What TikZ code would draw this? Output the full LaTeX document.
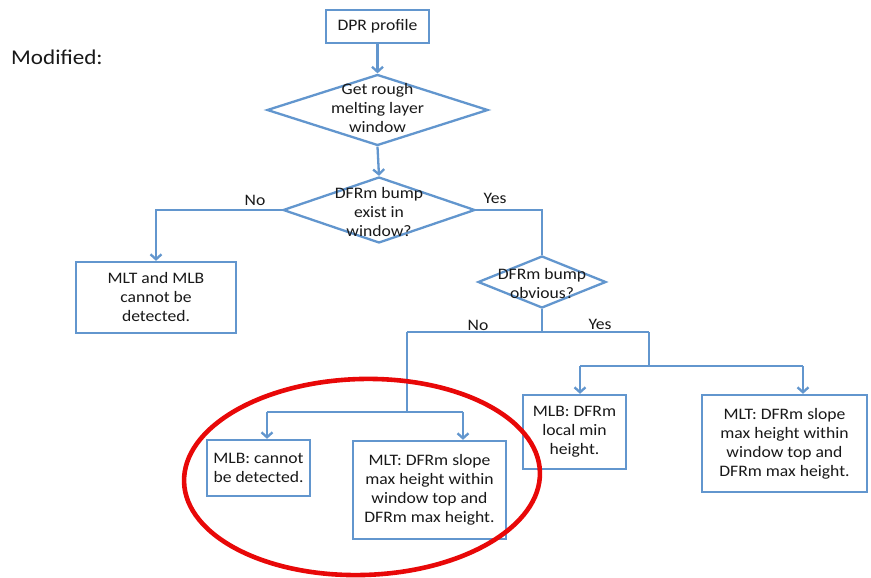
\documentclass[tikz,border=0pt]{standalone}
\usepackage{fontspec}
\setmainfont{Carlito}[FakeStretch=1.1]
\usetikzlibrary{shapes.geometric,arrows.meta}
\definecolor{flowblue}{RGB}{98,150,206}
\definecolor{inkgray}{RGB}{25,25,25}
\definecolor{markred}{RGB}{232,8,8}
\tikzset{
  box/.style={draw=flowblue, line width=2.3pt, fill=white, inner sep=0pt,
    align=center, text=inkgray, font=\fontsize{16}{19}\selectfont},
  dia/.style={draw=flowblue, line width=2.3pt, diamond, inner sep=0pt},
  txt/.style={align=center, text=inkgray, inner sep=0pt,
    font=\fontsize{16}{19}\selectfont},
  link/.style={draw=flowblue, line width=2.3pt},
  arr/.style={link, -{Straight Barb[length=5pt,width=11pt,line width=2.3pt]}},
}
\begin{document}
\begin{tikzpicture}[x=1pt,y=-1pt]
\useasboundingbox[fill=white] (0,0) rectangle (871,578);

% heading
\node[txt, anchor=west, font=\fontsize{21}{24}\selectfont] (head) at (11,57) {Modified:};

% decisions and steps
\node[box, minimum width=103pt, minimum height=33pt] (dpr) at (377.5,26.5) {DPR profile};
\node[dia, minimum width=221pt, minimum height=71pt] (d1) at (377.5,110) {};
\node[txt] (d1t) at (377.5,108) {Get rough\\melting layer\\window};
\node[dia, minimum width=192pt, minimum height=66pt] (d2) at (379,210) {};
\node[txt] (d2t) at (379,212) {DFRm bump\\exist in\\window?};
\node[dia, minimum width=128pt, minimum height=52pt] (d3) at (542,282) {};
\node[txt] (d3t) at (542,284) {DFRm bump\\obvious?};

\node[box, minimum width=160pt, minimum height=71pt] (b1) at (156,297.5) {MLT and MLB\\cannot be\\detected.};
\node[box, minimum width=103pt, minimum height=56pt] (b2) at (258.5,468) {MLB: cannot\\be detected.};
\node[box, minimum width=153pt, minimum height=98pt] (b3) at (429.5,490) {MLT: DFRm slope\\max height within\\window top and\\DFRm max height.};
\node[box, minimum width=103pt, minimum height=74pt] (b4) at (574.5,432) {MLB: DFRm\\local min\\height.};
\node[box, minimum width=165pt, minimum height=97pt] (b5) at (784.5,443.5) {MLT: DFRm slope\\max height within\\window top and\\DFRm max height.};

% branch points
\coordinate (j0) at (542,332);
\coordinate (jl) at (407,332);
\coordinate (jr) at (649,332);
\coordinate (kl) at (407,412);
\coordinate (kl1) at (267,412);
\coordinate (kl2) at (463,412);
\coordinate (kr) at (649,366);
\coordinate (kr1) at (580,366);
\coordinate (kr2) at (803,366);

% connectors
\draw[arr] (dpr.south) -- (d1.north);
\draw[arr] (d1.south) -- (d2.north);
\draw[arr] (d2.west) -| (b1.north);
\draw[link] (d2.east) -| (d3.north);
\draw[link] (d3.south) -- (j0);
\draw[link] (jl) -- (jr);
\draw[link] (jl) -- (kl);
\draw[link] (kl1) -- (kl2);
\draw[arr] (kl1) -- (kl1 |- b2.north);
\draw[arr] (kl2) -- (kl2 |- b3.north);
\draw[link] (jr) -- (kr);
\draw[link] (kr1) -- (kr2);
\draw[arr] (kr1) -- (kr1 |- b4.north);
\draw[arr] (kr2) -- (kr2 |- b5.north);

% branch labels
\node[txt] (no1) at (255,200) {No};
\node[txt] (yes1) at (495,198) {Yes};
\node[txt] (no2) at (478,325) {No};
\node[txt] (yes2) at (600,324) {Yes};

% highlight
\draw[markred, line width=4.6pt] (362,477) ellipse [x radius=178pt, y radius=98pt, rotate=1.6];
\end{tikzpicture}
\end{document}
